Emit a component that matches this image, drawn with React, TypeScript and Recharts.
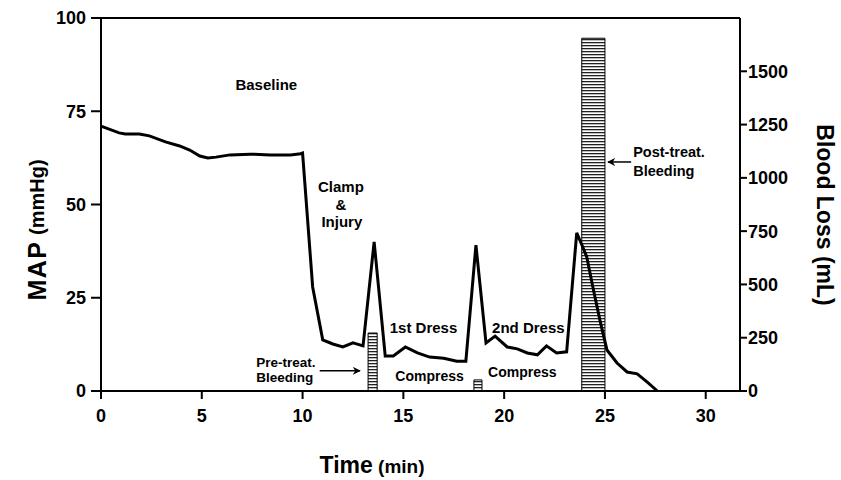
import React from "react";
import {
  ComposedChart,
  Line,
  XAxis,
  YAxis,
  ReferenceArea,
  ReferenceDot,
  ReferenceLine,
} from "recharts";

// MAP trace
const timeMin = [
  0, 0.9, 1.2, 1.9, 2.4, 3.2, 3.9, 4.4, 4.9, 5.3, 5.7, 6.4, 7.4, 8.4, 9.4, 9.9,
  10.0, 10.5, 11.0, 11.5, 12.0, 12.5, 13.0, 13.55, 14.1, 14.5, 15.1, 15.7, 16.3,
  17.0, 17.65, 18.1, 18.6, 19.1, 19.55, 20.15, 20.65, 21.15, 21.65, 22.1, 22.6,
  23.1, 23.6, 23.9, 24.1, 24.4, 24.75, 25.1, 25.6, 26.1, 26.6, 27.1, 27.6,
];
const mapMmHg = [
  71.0, 69.2, 68.9, 68.9, 68.4, 66.8, 65.7, 64.6, 63.0, 62.5, 62.7, 63.3, 63.5,
  63.3, 63.3, 63.6, 63.8, 27.9, 13.7, 12.6, 11.8, 12.9, 12.1, 40.0, 9.4, 9.4,
  11.8, 10.2, 9.1, 8.8, 8.0, 8.0, 39.1, 12.9, 14.7, 11.8, 11.3, 10.2, 9.7, 12.1,
  10.2, 10.5, 42.4, 38.6, 35.9, 27.9, 19.0, 11.0, 7.5, 5.1, 4.6, 2.4, 0,
];

// blood loss bars (mL) on the right axis
const bleedStart = [13.25, 18.5, 23.85];
const bleedEnd = [13.7, 18.9, 25.0];
const bleedVolume = [272, 52, 1655];

const xTicks = [0, 5, 10, 15, 20, 25, 30];
const leftTicks = [0, 25, 50, 75, 100];
const rightTicks = [0, 250, 500, 750, 1000, 1250, 1500];

// annotation text
const noteTime = [8.2, 11.9, 11.9, 11.95, 16.0, 21.2, 16.3, 20.9, 7.7, 7.7, 26.4, 26.4];
const noteMap = [82.0, 54.7, 49.9, 45.4, 16.9, 16.9, 4.0, 5.1, 7.8, 3.6, 64.0, 59.0];
const noteText = [
  "Baseline",
  "Clamp",
  "&",
  "Injury",
  "1st Dress",
  "2nd Dress",
  "Compress",
  "Compress",
  "Pre-treat.",
  "Bleeding",
  "Post-treat.",
  "Bleeding",
];
const noteSize = [15, 15, 15, 15, 15, 15, 14, 14, 13.5, 13.5, 14.5, 14.5];
const noteAnchor = [
  "middle", "middle", "middle", "middle", "middle", "middle",
  "middle", "middle", "start", "start", "start", "start",
];

// arrows: from -> to
const arrowFrom = [{ x: 10.85, y: 5.4 }, { x: 26.3, y: 61.4 }];
const arrowTo = [{ x: 12.85, y: 5.4 }, { x: 25.15, y: 61.4 }];

const rows = timeMin.map((t, i) => ({ t, map: mapMmHg[i] }));
const lossRows = bleedVolume.map((loss, i) => ({
  t: (bleedStart[i] + bleedEnd[i]) / 2,
  loss,
}));

const FONT = "'Liberation Sans', Arial, Helvetica, sans-serif";
const tickStyle = { fill: "#000", fontSize: 18, fontWeight: 700, fontFamily: FONT };
const axisLineStyle = { stroke: "#000", strokeWidth: 2 };

export default function App() {
  return (
    <div style={{ position: "absolute", left: 0, top: 0, background: "#fff" }}>
      <svg width={0} height={0} style={{ position: "absolute" }}>
        <defs>
          <pattern id="hatch" width={4} height={3} patternUnits="userSpaceOnUse">
            <rect width={4} height={3} fill="#fff" />
            <rect width={4} height={1.3} fill="#222" />
          </pattern>
          <marker
            id="arrowHead"
            viewBox="0 0 10 10"
            refX={9}
            refY={5}
            markerWidth={8}
            markerHeight={8}
            markerUnits="userSpaceOnUse"
            orient="auto"
          >
            <path d="M0,0 L10,5 L0,10 L3,5 Z" fill="#000" />
          </marker>
        </defs>
      </svg>
      <ComposedChart
        width={841}
        height={480}
        data={rows}
        margin={{ top: 18, right: 0, bottom: 0, left: 0 }}
      >
        <XAxis
          dataKey="t"
          type="number"
          domain={[0, 31.7]}
          ticks={xTicks}
          height={89}
          tickSize={8}
          tickMargin={10}
          axisLine={axisLineStyle}
          tickLine={axisLineStyle}
          tick={tickStyle}
          label={{
            content: ({ viewBox }: any) => (
              <text
                x={viewBox.x + 271}
                y={viewBox.y + 82}
                textAnchor="middle"
                fontFamily={FONT}
                fontWeight={700}
                fill="#000"
              >
                <tspan fontSize={23}>Time</tspan>
                <tspan fontSize={19}> (min)</tspan>
              </text>
            ),
          }}
        />
        <YAxis
          yAxisId="left"
          width={101}
          domain={[0, 100]}
          ticks={leftTicks}
          tickSize={10}
          tickMargin={5}
          axisLine={axisLineStyle}
          tickLine={axisLineStyle}
          tick={tickStyle}
          label={{
            content: ({ viewBox }: any) => (
              <text
                x={37}
                y={viewBox.y + 212}
                textAnchor="middle"
                dominantBaseline="central"
                transform={`rotate(-90 37 ${viewBox.y + 212})`}
                fontFamily={FONT}
                fontWeight={700}
                fill="#000"
              >
                <tspan fontSize={25} letterSpacing={1.5}>MAP</tspan>
                <tspan fontSize={20}> (mmHg)</tspan>
              </text>
            ),
          }}
        />
        <YAxis
          yAxisId="right"
          orientation="right"
          width={101}
          domain={[0, 1750]}
          ticks={rightTicks}
          tickSize={7}
          tickMargin={1}
          axisLine={axisLineStyle}
          tickLine={axisLineStyle}
          tick={tickStyle}
          label={{
            content: ({ viewBox }: any) => (
              <text
                x={825}
                y={viewBox.y + 197}
                textAnchor="middle"
                dominantBaseline="central"
                transform={`rotate(90 825 ${viewBox.y + 197})`}
                fontFamily={FONT}
                fontWeight={700}
                fontSize={23}
                fill="#000"
              >
                Blood Loss (mL)
              </text>
            ),
          }}
        />
        <ReferenceLine yAxisId="left" y={100} stroke="#000" strokeWidth={2} ifOverflow="visible" />
        {bleedVolume.map((v, i) => (
          <ReferenceArea
            key={`bleed-${i}`}
            yAxisId="right"
            x1={bleedStart[i]}
            x2={bleedEnd[i]}
            y1={0}
            y2={v}
            fill="url(#hatch)"
            fillOpacity={1}
            stroke="#000"
            strokeWidth={1}
            ifOverflow="visible"
          />
        ))}
        {/* binds the blood-loss axis to its data; the bars themselves are the areas above */}
        <Line
          yAxisId="right"
          data={lossRows}
          dataKey="loss"
          stroke="none"
          dot={false}
          activeDot={false}
          isAnimationActive={false}
        />
        <Line
          yAxisId="left"
          dataKey="map"
          type="linear"
          stroke="#000"
          strokeWidth={3}
          dot={false}
          isAnimationActive={false}
        />
        {arrowFrom.map((a, i) => (
          <ReferenceLine
            key={`arrow-${i}`}
            yAxisId="left"
            segment={[a, arrowTo[i]]}
            stroke="#000"
            strokeWidth={1.5}
            markerEnd="url(#arrowHead)"
          />
        ))}
        {noteText.map((txt, i) => (
          <ReferenceDot
            key={`note-${i}`}
            yAxisId="left"
            x={noteTime[i]}
            y={noteMap[i]}
            r={0}
            fill="none"
            stroke="none"
            label={{
              value: txt,
              position: "center",
              fill: "#000",
              fontSize: noteSize[i],
              fontWeight: 700,
              fontFamily: FONT,
              textAnchor: noteAnchor[i],
            }}
          />
        ))}
      </ComposedChart>
    </div>
  );
}
